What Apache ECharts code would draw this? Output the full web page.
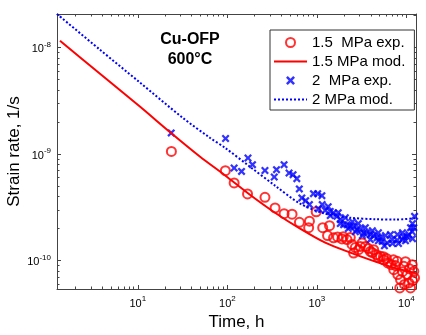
<!DOCTYPE html>
<html>
<head>
<meta charset="utf-8">
<script src="https://cdn.jsdelivr.net/npm/echarts@6/dist/echarts.min.js"></script>
<style>
  html, body { margin: 0; padding: 0; background: #fff; }
  #chart { width: 426px; height: 335px; }
</style>
</head>
<body>
<div id="chart"></div>
<script>
// Axis ranges and tick positions (time in hours, strain rate in 1/s)
const timeRange = [1.25, 12800];
const rateRange = [5.43e-11, 2.06e-8];
const timeTicks = [10, 100, 1000, 10000];
const timeMinorTicks = [2, 3, 4, 5, 6, 7, 8, 9, 20, 30, 40, 50, 60, 70, 80, 90,
  200, 300, 400, 500, 600, 700, 800, 900, 2000, 3000, 4000, 5000, 6000, 7000, 8000, 9000];
const rateTicks = [1e-10, 1e-9, 1e-8];
const rateMinorTicks = [6e-11, 7e-11, 8e-11, 9e-11,
  2e-10, 3e-10, 4e-10, 5e-10, 6e-10, 7e-10, 8e-10, 9e-10,
  2e-9, 3e-9, 4e-9, 5e-9, 6e-9, 7e-9, 8e-9, 9e-9, 2e-8];

const seriesNames = ['1.5  MPa exp.', '1.5 MPa mod.', '2  MPa exp.', '2 MPa mod.'];

// 1.5 MPa measured creep rate [time h, rate 1/s]
const exp15 = [
  [23.7, 1.06e-9], [95, 6.99e-10], [119, 5.36e-10], [168, 4.23e-10], [263, 3.93e-10],
  [341, 3.13e-10], [430, 2.76e-10], [528, 2.73e-10], [638, 2.29e-10], [826, 2.35e-10],
  [809, 2.04e-10], [982, 2.88e-10], [1161, 2.04e-10], [1384, 2.13e-10], [1315, 1.72e-10],
  [1535, 1.64e-10], [1702, 1.67e-10], [1907, 1.60e-10], [2169, 1.58e-10], [2469, 1.42e-10],
  [2572, 1.18e-10], [2927, 1.27e-10], [3195, 1.47e-10], [3479, 1.36e-10], [3960, 1.22e-10],
  [4310, 1.27e-10], [4621, 1.14e-10], [5124, 1.10e-10], [5580, 1.02e-10], [6187, 9.54e-11],
  [6756, 9.19e-11], [7222, 8.25e-11], [7886, 9.87e-11], [8009, 7.41e-11], [8588, 6.65e-11],
  [8433, 5.56e-11], [9352, 8.86e-11], [10210, 7.41e-11], [10640, 6.19e-11], [11610, 9.19e-11],
  [12100, 7.95e-11], [11120, 5.56e-11], [12330, 6.90e-11],
  [2688, 1.33e-10], [3759, 1.30e-10], [4867, 1.07e-10], [5983, 1.05e-10], [7547, 9.0e-11],
  [9043, 7.9e-11], [9770, 9.8e-11], [10830, 8.4e-11], [9522, 6.0e-11], [11710, 6.5e-11],
  [1972, 1.68e-10], [2362, 1.65e-10], [3058, 1.36e-10], [4169, 1.19e-10], [5538, 1.09e-10],
  [7168, 1.02e-10]
];

// 1.5 MPa model curve
const mod15 = [
  [1.35, 1.156e-8], [3.72, 5.73e-9], [10.45, 2.81e-9], [23.3, 1.587e-9], [49.2, 9.51e-10],
  [93.8, 6.34e-10], [178.7, 4.16e-10], [340.8, 2.82e-10], [649.8, 2.00e-10], [1239, 1.477e-10],
  [2362, 1.191e-10], [4504, 9.81e-11], [7547, 8.52e-11], [12800, 7.65e-11]
];

// 2 MPa measured creep rate [time h, rate 1/s]
const exp20 = [
  [23.6, 1.58e-9], [95.5, 1.40e-9], [119, 7.41e-10], [144, 6.88e-10], [170, 9.19e-10],
  [191, 7.96e-10], [263, 7.02e-10], [354, 7.14e-10], [334, 6.10e-10], [430, 7.96e-10],
  [489, 6.65e-10], [542, 6.41e-10], [597, 5.88e-10], [637, 4.71e-10], [679, 3.88e-10],
  [749, 3.66e-10], [826, 3.36e-10], [916, 4.25e-10], [1021, 4.25e-10], [1138, 4.07e-10],
  [1042, 3.06e-10], [1239, 2.97e-10], [1410, 2.90e-10], [1535, 2.81e-10], [1676, 2.61e-10],
  [1825, 2.43e-10], [1987, 2.18e-10], [2169, 2.18e-10], [2362, 2.10e-10], [2572, 2.10e-10],
  [2808, 1.96e-10], [3058, 1.96e-10], [3330, 1.82e-10], [3636, 1.82e-10], [3960, 1.76e-10],
  [4310, 1.72e-10], [4706, 1.64e-10], [5124, 1.64e-10], [5355, 1.52e-10], [6092, 1.47e-10],
  [6932, 1.58e-10], [7886, 1.56e-10], [8974, 1.58e-10], [9352, 1.67e-10], [10210, 1.69e-10],
  [10640, 1.76e-10], [11610, 1.87e-10], [12100, 2.04e-10], [12330, 2.61e-10],
  [1147, 3.36e-10], [1338, 3.21e-10], [1733, 2.82e-10], [2077, 2.53e-10], [2488, 2.32e-10],
  [2904, 2.23e-10], [3479, 2.04e-10], [4169, 1.91e-10], [4867, 1.83e-10], [5831, 1.72e-10],
  [6632, 1.76e-10], [7947, 1.76e-10], [9043, 1.83e-10], [11120, 2.04e-10], [11710, 2.23e-10],
  [1410, 2.65e-10], [1825, 2.23e-10], [2243, 2.00e-10], [2688, 1.87e-10], [3219, 1.72e-10],
  [3960, 1.58e-10], [4867, 1.54e-10], [5682, 1.38e-10], [6986, 1.45e-10], [8155, 1.45e-10],
  [9770, 1.54e-10], [11710, 1.61e-10]
];

// 2 MPa model curve
const mod20 = [
  [1.25, 2.06e-8], [3.72, 9.62e-9], [10.45, 4.72e-9], [31.7, 2.19e-9], [63.7, 1.424e-9],
  [93.8, 1.148e-9], [178.7, 7.62e-10], [340.8, 5.06e-10], [649.8, 3.43e-10], [1239, 2.76e-10],
  [2362, 2.53e-10], [4504, 2.45e-10], [7547, 2.43e-10], [12800, 2.51e-10]
];

const FONT = "'Liberation Sans', Arial, sans-serif";
const AXIS_COLOR = '#444';
const RED = '#ff0000';
const BLUE = '#0000ff';
const CROSS = 'path://M0,2L2,0L5,3L8,0L10,2L7,5L10,8L8,10L5,7L2,10L0,8L3,5Z';

function powerLabel(value) {
  const e = Math.round(Math.log10(value));
  return '{b|10}{e|' + e + '}';
}
const powerRich = {
  b: { fontSize: 11, fontFamily: FONT, color: '#000', lineHeight: 14, verticalAlign: 'bottom' },
  e: { fontSize: 8, fontFamily: FONT, color: '#000', lineHeight: 8, verticalAlign: 'top' }
};

// One log axis: either the framed axis carrying the major ticks (and labels),
// or an overlay drawing only the minor ticks.
function logAxis(range, pos, ticks, len, withLine, withLabels, extra) {
  return Object.assign({
    type: 'log',
    logBase: 10,
    min: range[0],
    max: range[1],
    position: pos,
    axisLine: { show: withLine, onZero: false, lineStyle: { color: AXIS_COLOR, width: 1 } },
    axisTick: { show: true, inside: true, length: len, customValues: ticks,
      lineStyle: { color: AXIS_COLOR, width: 1 } },
    axisLabel: withLabels
      ? { show: true, customValues: ticks, formatter: powerLabel, rich: powerRich, margin: 6 }
      : { show: false },
    splitLine: { show: false },
    minorTick: { show: false },
    axisPointer: { show: false }
  }, extra || {});
}

const chart = echarts.init(document.getElementById('chart'), null, { renderer: 'canvas' });

chart.setOption({
  backgroundColor: '#fff',
  animation: false,
  textStyle: { fontFamily: FONT },
  grid: { left: 57, right: 10, top: 14, bottom: 46, outerBoundsMode: 'none', containLabel: false },
  xAxis: [
    logAxis(timeRange, 'bottom', timeTicks, 4, true, true, {
      name: 'Time, h', nameLocation: 'middle', nameGap: 25, nameMoveOverlap: false,
      nameTextStyle: { fontSize: 17, color: '#000', fontFamily: FONT }
    }),
    logAxis(timeRange, 'bottom', timeMinorTicks, 2.5, false, false),
    logAxis(timeRange, 'top', timeTicks, 4, true, false),
    logAxis(timeRange, 'top', timeMinorTicks, 2.5, false, false)
  ],
  yAxis: [
    logAxis(rateRange, 'left', rateTicks, 4, true, true, {
      name: 'Strain rate, 1/s', nameLocation: 'middle', nameGap: 34, nameRotate: 90,
      nameMoveOverlap: false,
      nameTextStyle: { fontSize: 17, color: '#000', fontFamily: FONT }
    }),
    logAxis(rateRange, 'left', rateMinorTicks, 2.5, false, false),
    logAxis(rateRange, 'right', rateTicks, 4, true, false),
    logAxis(rateRange, 'right', rateMinorTicks, 2.5, false, false)
  ],
  legend: {
    orient: 'vertical',
    left: 270,
    top: 30,
    padding: [5, 9, 3, 3],
    itemWidth: 33,
    itemHeight: 9,
    itemGap: 4,
    borderColor: '#333',
    borderWidth: 1,
    backgroundColor: '#fff',
    textStyle: { fontSize: 15, color: '#000', fontFamily: FONT },
    data: [
      { name: seriesNames[0] },
      { name: seriesNames[1], itemStyle: { opacity: 0 } },
      { name: seriesNames[2] },
      { name: seriesNames[3], itemStyle: { opacity: 0 } }
    ]
  },
  graphic: [{
    type: 'text',
    x: 190,
    y: 30,
    style: {
      text: 'Cu-OFP\n600°C',
      textAlign: 'center',
      fontSize: 16,
      fontWeight: 'bold',
      fontFamily: FONT,
      lineHeight: 20,
      fill: '#000'
    },
    z: 10
  }],
  series: [
    {
      name: seriesNames[0], type: 'scatter', data: exp15,
      symbol: 'circle', symbolSize: 9,
      itemStyle: { color: 'rgba(255,255,255,0)', borderColor: RED, borderWidth: 2 }
    },
    {
      name: seriesNames[1], type: 'line', data: mod15, smooth: 0.3,
      showSymbol: false, symbol: 'none',
      lineStyle: { color: RED, width: 2 }, itemStyle: { color: RED }
    },
    {
      name: seriesNames[2], type: 'scatter', data: exp20,
      symbol: CROSS, symbolSize: 8,
      itemStyle: { color: BLUE }
    },
    {
      name: seriesNames[3], type: 'line', data: mod20, smooth: 0.3,
      showSymbol: false, symbol: 'none',
      lineStyle: { color: BLUE, width: 2, type: [2, 2] }, itemStyle: { color: BLUE }
    }
  ]
});
</script>
</body>
</html>
